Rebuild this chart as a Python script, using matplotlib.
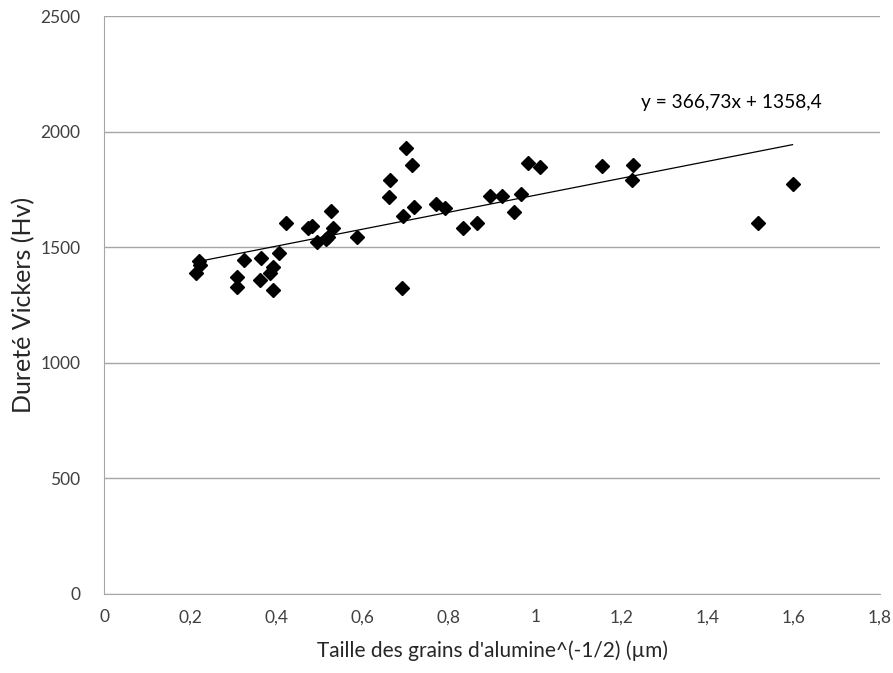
import numpy as np
import matplotlib
matplotlib.use("Agg")
import matplotlib.pyplot as plt
from matplotlib.ticker import FuncFormatter, MultipleLocator

# grain size^(-1/2) vs Vickers hardness
grain_x = [0.213, 0.220, 0.223, 0.309, 0.309, 0.325, 0.365, 0.361, 0.405,
           0.393, 0.385, 0.393, 0.422, 0.474, 0.483, 0.494, 0.514, 0.520,
           0.527, 0.531, 0.586, 0.660, 0.664, 0.691, 0.694, 0.700, 0.715,
           0.720, 0.770, 0.791, 0.833, 0.864, 0.896, 0.924, 0.950, 0.967,
           0.983, 1.012, 1.155, 1.226, 1.224, 1.518, 1.597]
hardness = [1387, 1440, 1423, 1370, 1329, 1445, 1452, 1358, 1476,
            1416, 1387, 1315, 1606, 1584, 1593, 1524, 1538, 1545,
            1658, 1582, 1545, 1718, 1791, 1326, 1635, 1930, 1856,
            1675, 1687, 1671, 1584, 1603, 1723, 1723, 1651, 1730,
            1863, 1847, 1852, 1855, 1792, 1606, 1772]

# trend line coefficients as printed on the chart
slope = 366.73
intercept = 1358.4

plt.rcParams['font.family'] = ['Lato', 'DejaVu Sans']

fig = plt.figure(figsize=(8.93, 6.73), dpi=100)
ax = fig.add_axes([0.1165, 0.1174, 0.869, 0.8586])

ax.plot(grain_x, hardness, linestyle='none', marker='D', markersize=7,
        color='black', zorder=3)

xs = np.array([min(grain_x), max(grain_x)])
ax.plot(xs, slope * xs + intercept, color='black', linewidth=0.9, zorder=2)

ax.text(1.245, 2125, "y = 366,73x + 1358,4", fontsize=13.8, color='black',
        ha='left', va='center')

ax.set_xlim(0, 1.8)
ax.set_ylim(0, 2500)
ax.xaxis.set_major_locator(MultipleLocator(0.2))
ax.yaxis.set_major_locator(MultipleLocator(500))


def comma_fmt(v, pos):
    s = f"{v:.1f}".rstrip('0').rstrip('.')
    return s.replace('.', ',')


ax.xaxis.set_major_formatter(FuncFormatter(comma_fmt))
ax.yaxis.set_major_formatter(FuncFormatter(lambda v, p: f"{int(v)}"))

ax.grid(axis='y', color='#a6a6a6', linewidth=1)
ax.set_axisbelow(True)
for side in ['top', 'right']:
    ax.spines[side].set_visible(False)
for side in ['left', 'bottom']:
    ax.spines[side].set_color('#a6a6a6')
ax.tick_params(length=0, labelsize=12.5, colors='#404040')
ax.tick_params(axis='y', pad=17)
ax.tick_params(axis='x', pad=11)

ax.set_xlabel("Taille des grains d'alumine^(-1/2) (µm)", fontsize=15,
              color='#262626')
ax.set_ylabel("Dureté Vickers (Hv)", fontsize=18, color='#262626')
ax.xaxis.set_label_coords(0.5, -0.08)
ax.yaxis.set_label_coords(-0.088, 0.5)

fig.savefig("out.png", dpi=100)
